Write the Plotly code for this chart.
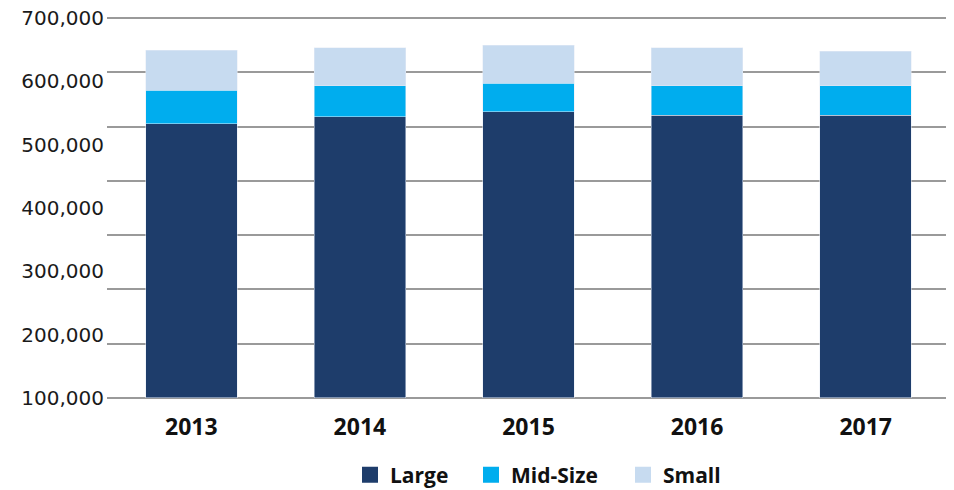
import plotly.graph_objects as go

# Jahre und Werte je Segment
years = ["2013", "2014", "2015", "2016", "2017"]
large = [505000, 518000, 527000, 521000, 521000]
mid_size = [62000, 57000, 53000, 54000, 54000]
small = [74000, 70000, 70000, 70000, 64000]

# Achsenbeschriftung (im Original gleichmaessig ueber die Achse verteilt)
tick_values = [100000, 200000, 300000, 400000, 500000, 600000, 700000]
tick_labels = ["100,000", "200,000", "300,000", "400,000", "500,000", "600,000", "700,000"]
grid_values = [0, 100000, 200000, 300000, 400000, 500000, 600000, 700000]

names = ["Large", "Mid-Size", "Small"]
colors = ["#1e3d6b", "#00adee", "#c7dbf0"]

# body hat 8px Rand -> Figur etwas kleiner
W, H = 946, 482
pad = 2000   # kleiner Rand, damit die aeusseren Rasterlinien sichtbar bleiben

fig = go.Figure()

for vals, name, col in zip([large, mid_size, small], names, colors):
    fig.add_trace(go.Bar(x=years, y=vals, name=name, marker_color=col, showlegend=False))

# Legende: je Eintrag eine eigene Legende, damit die Abstaende stimmen
# (Eintraege haengen an y2, damit die Beschriftungsachse gezeichnet wird)
legend_ids = ["legend", "legend2", "legend3"]
legend_text_x = [390, 511, 663]   # Textbeginn im Bild
for name, col, lid in zip(names, colors, legend_ids):
    fig.add_trace(go.Scatter(x=[None], y=[None], mode="markers", name=name, legend=lid,
                             yaxis="y2",
                             marker=dict(symbol="square", size=20, color=col)))

legend_style = dict(
    orientation="h",
    xanchor="left",
    xref="container",
    y=0.031,
    yanchor="middle",
    yref="container",
    font=dict(family="Open Sans", size=21, color="#111111", weight="bold"),
    itemwidth=30,
    bgcolor="rgba(0,0,0,0)",
)

legends = {}
for lid, tx in zip(legend_ids, legend_text_x):
    legends[lid] = dict(legend_style, x=(tx - 8 - 40) / W)

fig.update_layout(
    barmode="stack",
    bargap=0.457,
    width=W,
    height=H,
    margin=dict(l=99, r=4, t=9, b=91),
    plot_bgcolor="white",
    paper_bgcolor="white",
    font=dict(family="DejaVu Sans", size=20, color="#1a1a1a"),
    **legends,
)

fig.update_xaxes(
    showgrid=False,
    showline=False,
    ticks="",
    automargin=False,
    tickfont=dict(family="Open Sans", size=23, color="#111111", weight="bold"),
    ticklabelstandoff=12,
)

# Rasterlinien auf der Hauptachse
fig.update_layout(
    yaxis=dict(
        range=[-pad, 700000 + pad],
        tickvals=grid_values,
        showticklabels=False,
        showgrid=True,
        gridcolor="#9a9a9a",
        gridwidth=1.5,
        zeroline=False,
        showline=False,
        ticks="",
        automargin=False,
    ),
    # Beschriftung auf einer ueberlagerten Achse
    yaxis2=dict(
        overlaying="y",
        side="left",
        range=[100000 - pad * 6 / 7, 700000 + pad * 6 / 7],
        tickvals=tick_values,
        ticktext=tick_labels,
        showgrid=False,
        zeroline=False,
        showline=False,
        ticks="",
        automargin=False,
        ticklabelstandoff=2,
        ticklabeloverflow="allow",
    ),
)

fig.write_html("out.html")
